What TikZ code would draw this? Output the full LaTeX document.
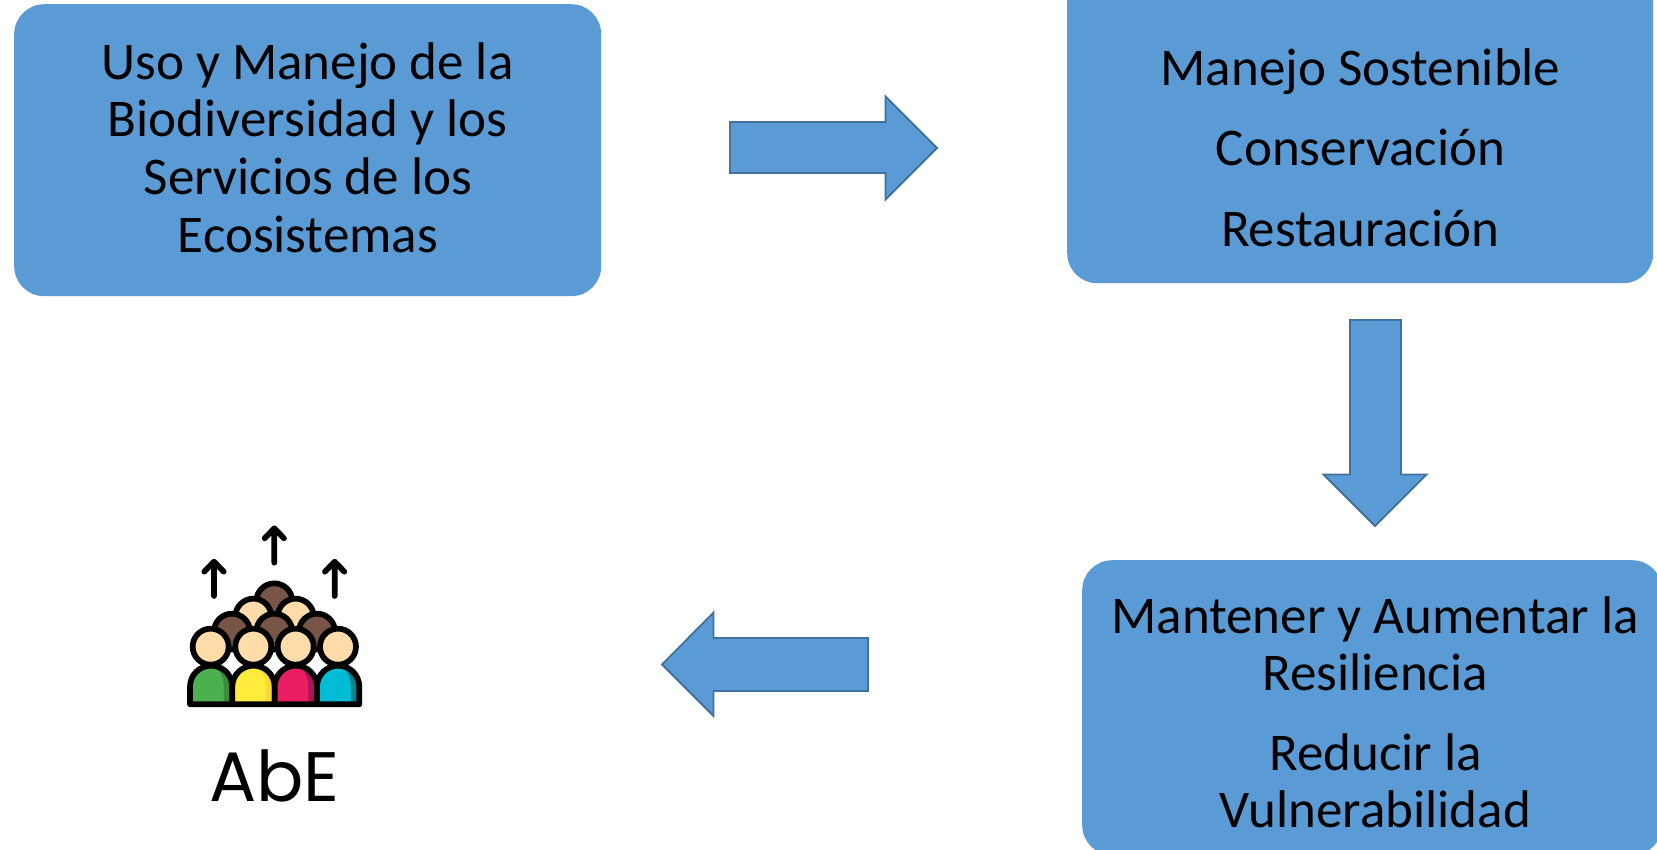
\documentclass[tikz,border=0pt]{standalone}
\usepackage{fontspec}
\setmainfont{Carlito}
\newfontfamily\abefont{Poppins}
\definecolor{boxblue}{HTML}{5B9BD5}
\definecolor{arrowedge}{HTML}{41719C}
\definecolor{skin}{HTML}{FFDCAA}
\definecolor{hair}{HTML}{795548}
\definecolor{gA}{HTML}{4CAF50}\definecolor{gB}{HTML}{388E3C}
\definecolor{yA}{HTML}{FFEB3B}\definecolor{yB}{HTML}{FDD835}
\definecolor{pA}{HTML}{E91E63}\definecolor{pB}{HTML}{AD1457}
\definecolor{cA}{HTML}{00BCD4}\definecolor{cB}{HTML}{00838F}
\tikzset{
  boxnode/.style={rectangle,rounded corners=30pt,fill=boxblue,draw=none,inner sep=0pt,anchor=north west},
  boxtext/.style={font=\fontsize{53}{57}\selectfont,text=black,anchor=base,inner sep=0pt},
  blockarrow/.style={fill=boxblue,draw=arrowedge,line width=1.8pt,line join=miter},
  iconline/.style={draw=black,line width=5.7pt,line cap=round,line join=round},
}
\begin{document}
\begin{tikzpicture}[x=1pt,y=-1pt]
\useasboundingbox (0,0) rectangle (1657,849);
\clip (0,0) rectangle (1657,849);
\fill[white] (0,0) rectangle (1657,849);

% boxes
\node[boxnode,minimum width=587pt,minimum height=292pt] (b1) at (14,4) {};
\node[boxnode,minimum width=586pt,minimum height=323pt] (b2) at (1067,-40) {};
\node[boxnode,minimum width=580pt,minimum height=295pt] (b3) at (1082,560) {};

% box texts
\node[boxtext] (t11) at (307.5,79) {Uso y Manejo de la};
\node[boxtext] (t12) at (307.5,136.5) {Biodiversidad y los};
\node[boxtext] (t13) at (308,194.5) {Servicios de los};
\node[boxtext] (t14) at (308,252) {Ecosistemas};
\node[boxtext] (t21) at (1360.5,85.5) {Manejo Sostenible};
\node[boxtext] (t22) at (1360.5,165.5) {Conservación};
\node[boxtext] (t23) at (1360,246.5) {Restauración};
\node[boxtext] (t31) at (1375,633) {Mantener y Aumentar la};
\node[boxtext] (t32) at (1375,690.5) {Resiliencia};
\node[boxtext] (t33) at (1375.5,770) {Reducir la};
\node[boxtext] (t34) at (1375.5,827.5) {Vulnerabilidad};

% block arrows
\draw[blockarrow] (730,122) -- (885.5,122) -- (885.5,96.5) -- (937,148) -- (885.5,199.5) -- (885.5,173) -- (730,173) -- cycle;
\draw[blockarrow] (1350,320) -- (1401,320) -- (1401,474.5) -- (1426.5,474.5) -- (1375,526) -- (1323.5,474.5) -- (1350,474.5) -- cycle;
\draw[blockarrow] (868,638) -- (713.5,638) -- (713.5,612.5) -- (662,664.5) -- (713.5,716) -- (713.5,691) -- (868,691) -- cycle;

% people icon
\begin{scope}[shift={(150,500)},x=0.3333pt,y=-0.3333pt]
  \foreach \xa in {192,554}{
    \draw[iconline] (\xa,288) -- (\xa,185) (\xa-29,215) -- (\xa,185) -- (\xa+29,215);
  }
  \draw[iconline] (373,188) -- (373,85) (344,115) -- (373,85) -- (402,115);
  \filldraw[iconline,fill=hair] (373,304) circle[radius=54];
  \foreach \xa in {310,437}{\filldraw[iconline,fill=skin] (\xa,350) circle[radius=54];}
  \foreach \xa in {246,373,501}{\filldraw[iconline,fill=hair] (\xa,395) circle[radius=54];}
  \foreach \cx/\ca/\cb in {183.5/gA/gB,310.5/yA/yB,437.5/pA/pB,564.5/cA/cB}{
    \begin{scope}
      \clip (\cx-63.5,613) -- (\cx-63.5,560) .. controls (\cx-63.5,525) and (\cx-35,497) .. (\cx,497) .. controls (\cx+35,497) and (\cx+63.5,525) .. (\cx+63.5,560) -- (\cx+63.5,613) -- cycle;
      \fill[\ca] (\cx-70,490) rectangle (\cx+70,620);
      \fill[\cb] (\cx+2,497) .. controls (\cx+25,505) and (\cx+38,530) .. (\cx+38,560) -- (\cx+38,613) -- (\cx+70,613) -- (\cx+70,490) -- (\cx+2,490) -- cycle;
    \end{scope}
    \draw[iconline] (\cx-63.5,613) -- (\cx-63.5,560) .. controls (\cx-63.5,525) and (\cx-35,497) .. (\cx,497) .. controls (\cx+35,497) and (\cx+63.5,525) .. (\cx+63.5,560) -- (\cx+63.5,613) -- cycle;
  }
  \foreach \xa in {182,310,437,564}{\filldraw[iconline,fill=skin] (\xa,440) circle[radius=54];}
\end{scope}
\node[font=\abefont\fontsize{70}{70}\selectfont,anchor=base,inner sep=0pt] (abe) at (274.5,801.5) {AbE};
\end{tikzpicture}
\end{document}
